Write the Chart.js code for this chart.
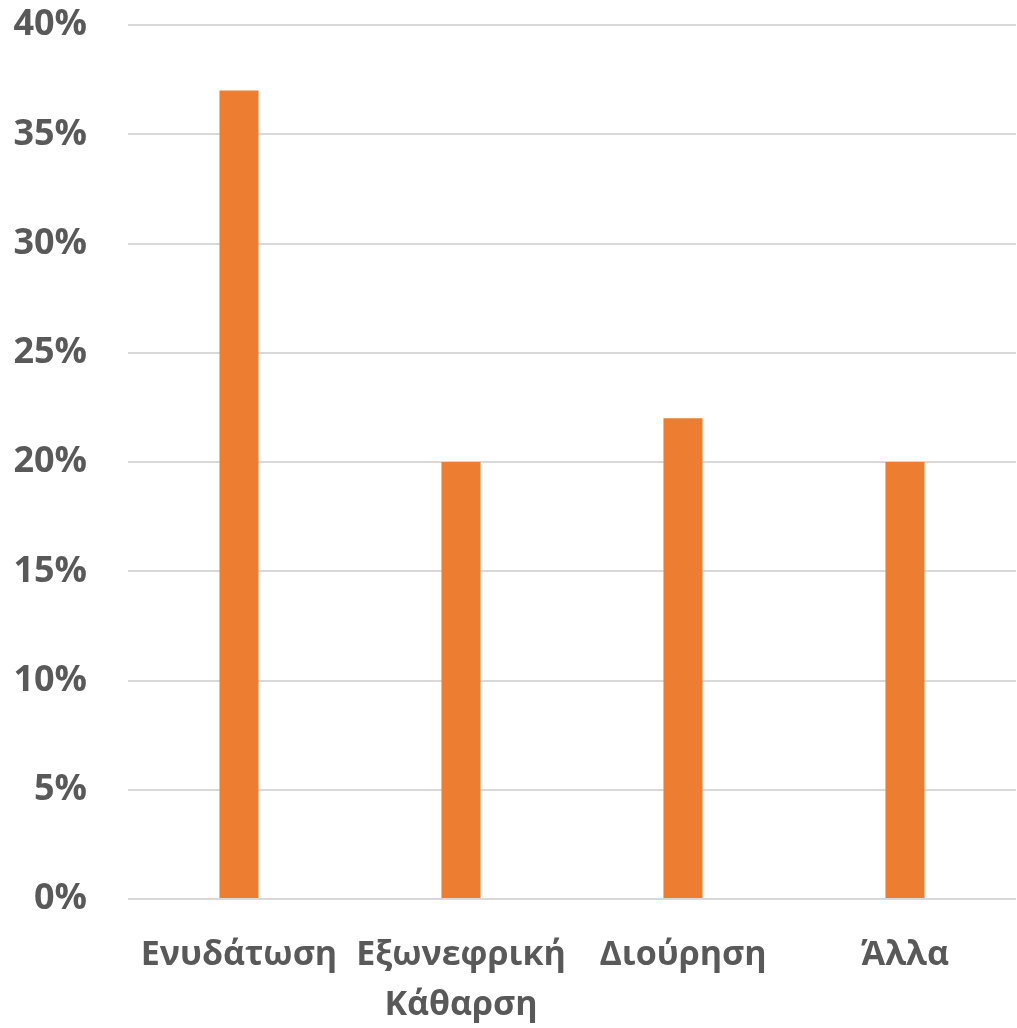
<!DOCTYPE html>
<html>
<head>
<meta charset="utf-8">
<script src="https://cdn.jsdelivr.net/npm/chart.js@4"></script>
<style>
html,body{margin:0;padding:0;background:#fff;}
#wrap{width:1017px;height:1028px;position:relative;}
</style>
</head>
<body>
<div id="wrap"><canvas id="c" width="1017" height="1028"></canvas></div>
<script>
const categories = ['Ενυδάτωση', ['Εξωνεφρική', 'Κάθαρση'], 'Διούρηση', 'Άλλα'];
const values = [37, 20, 22, 20];
const yTicks = [0, 5, 10, 15, 20, 25, 30, 35, 40];

const FONT = "'Open Sans', 'Noto Sans', sans-serif";
new Chart(document.getElementById('c'), {
  type: 'bar',
  data: {
    labels: categories,
    datasets: [{
      data: values,
      backgroundColor: '#ED7D31',
      borderWidth: 0,
      categoryPercentage: 1,
      barPercentage: 0.176
    }]
  },
  options: {
    responsive: false,
    animation: false,
    layout: { padding: { top: 25, right: 1, left: 0, bottom: 0 } },
    plugins: { legend: { display: false }, tooltip: { enabled: false } },
    scales: {
      x: {
        grid: { display: false, drawTicks: false },
        border: { display: false },
        ticks: {
          color: '#595959',
          font: { family: FONT, size: 34, weight: 'bold', lineHeight: 1.47 },
          padding: 31,
          maxRotation: 0,
          autoSkip: false
        },
        afterFit: s => { s.height = 129; s.paddingLeft = 0; s.paddingRight = 0; }
      },
      y: {
        min: 0, max: 40,
        afterBuildTicks: s => { s.ticks = yTicks.map(v => ({ value: v })); },
        grid: { color: '#d9d9d9', lineWidth: 2, drawTicks: false },
        border: { display: false },
        ticks: {
          color: '#595959',
          font: { family: FONT, size: 36, weight: 'bold' },
          padding: 41,
          callback: v => v + '%'
        },
        afterFit: s => { s.width = 128; s.paddingTop = 0; s.paddingBottom = 0; }
      }
    }
  }
});
</script>
</body>
</html>
